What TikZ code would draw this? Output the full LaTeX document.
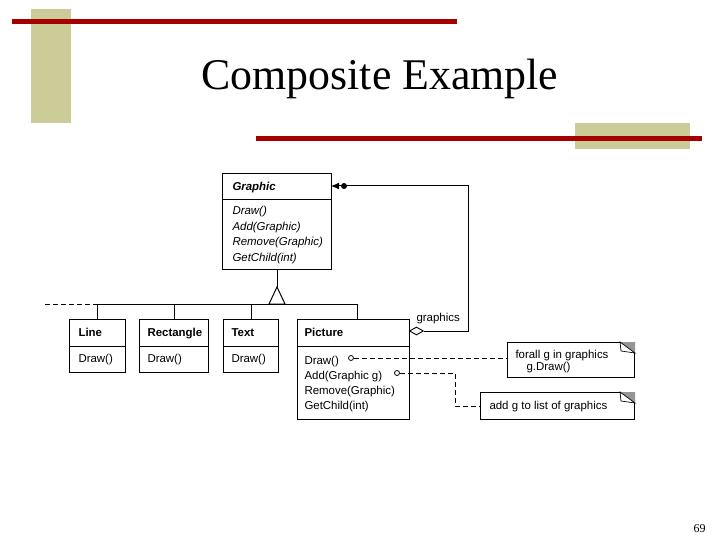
\documentclass[tikz,border=0pt]{standalone}
\usepackage{fontspec}
\setmainfont{Liberation Serif}
\newfontfamily\diagfont{Liberation Sans}
\usetikzlibrary{arrows.meta,shapes.geometric}
\definecolor{barred}{RGB}{165,0,0}
\definecolor{bartan}{RGB}{204,204,153}
\definecolor{earGray}{RGB}{150,150,150}
\begin{document}
\begin{tikzpicture}[x=1bp,y=-1bp,
  every path/.style={line width=1bp},
  classbox/.style={draw, line width=1bp, inner sep=0, anchor=north west},
  notebox/.style={draw, line width=1bp, inner sep=0, anchor=north west, fill=white},
  txt/.style={anchor=base west, inner sep=0, font=\diagfont\fontsize{11.5}{13}\selectfont},
  hdr/.style={txt, font=\diagfont\bfseries\fontsize{11.5}{13}\selectfont},
  itxt/.style={txt, font=\diagfont\itshape\fontsize{11.5}{13}\selectfont},
  notedash/.style={dash pattern=on 5bp off 3bp},
  pin/.style={circle, draw, fill=white, inner sep=0, minimum size=5bp, line width=0.8bp}]
\useasboundingbox (0,0) rectangle (720,540);
\fill[white] (0,0) rectangle (720,540);

% decoration bars
\fill[bartan] (31,9) rectangle (71,123);
\fill[bartan] (575,123) rectangle (690,149);
\fill[barred] (12,19) rectangle (457,24);
\fill[barred] (256,136) rectangle (702,141);

% title
\node[anchor=base, inner sep=0, font=\fontsize{44}{50}\selectfont] (title) at (380,90) {Composite Example};

% Graphic class
\node[classbox, minimum width=109bp, minimum height=96bp] (graphic) at (222,173) {};
\draw ([yshift=-27bp]graphic.north west) -- ([yshift=-27bp]graphic.north east);
\node[hdr, font=\diagfont\bfseries\itshape\fontsize{11.5}{13}\selectfont] (gname) at (232,191) {Graphic};
\node[itxt] (g1) at (232,215) {Draw()};
\node[itxt] (g2) at (232,231) {Add(Graphic)};
\node[itxt] (g3) at (232,246) {Remove(Graphic)};
\node[itxt] (g4) at (232,262) {GetChild(int)};

% Subclasses
\node[classbox, minimum width=56bp, minimum height=53bp] (line) at (69,319) {};
\draw ([yshift=-27bp]line.north west) -- ([yshift=-27bp]line.north east);
\node[hdr] (lname) at (78,336) {Line};
\node[txt] (l1) at (78,362) {Draw()};

\node[classbox, minimum width=69bp, minimum height=53bp] (rect) at (139,319) {};
\draw ([yshift=-27bp]rect.north west) -- ([yshift=-27bp]rect.north east);
\node[hdr] (rname) at (147,336) {Rectangle};
\node[txt] (r1) at (147,362) {Draw()};

\node[classbox, minimum width=55bp, minimum height=53bp] (text) at (223,319) {};
\draw ([yshift=-27bp]text.north west) -- ([yshift=-27bp]text.north east);
\node[hdr] (tname) at (231,336) {Text};
\node[txt] (t1) at (231,362) {Draw()};

\node[classbox, minimum width=112bp, minimum height=100bp] (picture) at (297,319) {};
\draw ([yshift=-27bp]picture.north west) -- ([yshift=-27bp]picture.north east);
\node[hdr] (pname) at (304,336) {Picture};
\node[txt] (p1) at (304,364) {Draw()};
\node[txt] (p2) at (304,379) {Add(Graphic g)};
\node[txt] (p3) at (304,394) {Remove(Graphic)};
\node[txt] (p4) at (304,409) {GetChild(int)};

% inheritance
\coordinate (apex) at (graphic.south |- 0,287);
\coordinate (busL) at (97,304);
\coordinate (busR) at (357,304);
\coordinate (busDash) at (45,304);
\draw (graphic.south) -- (apex);
\draw[fill=white] (apex) -- ([xshift=-8bp]apex |- busL) -- ([xshift=8bp]apex |- busL) -- cycle;
\draw (busL) -- (busR);
\draw[notedash] (busDash) -- (busL);
\draw (line.north) -- (line.north |- busL);
\draw (rect.north) -- (rect.north |- busL);
\draw (text.north) -- (text.north |- busL);
\draw (busR) -- (busR |- picture.north);

% aggregation
\node[diamond, draw, fill=white, inner sep=0, minimum width=14bp, minimum height=8bp, line width=0.9bp, anchor=west] (agg) at (409,331) {};
\coordinate (aggCorner) at (468,186);
\coordinate (gAttach) at (331,186);
\draw[-{Latex[length=8bp,width=7bp]}] (agg.east) -| (aggCorner) -- (gAttach);
\fill (344,186) circle (3bp);
\node[txt] (glabel) at (416,321) {graphics};

% notes
\node[notebox, minimum width=127bp, minimum height=35bp] (note1) at (507,342) {};
\node[notebox, minimum width=154bp, minimum height=27bp] (note2) at (480,392) {};
\foreach \n in {note1,note2}{
  \fill[earGray] ([xshift=-15bp]\n.north east) -- (\n.north east) -- ([yshift=-11bp]\n.north east) -- cycle;
  \draw[fill=white, line width=0.7bp] ([xshift=-15bp]\n.north east) -- ([xshift=-14bp,yshift=-9bp]\n.north east) -- ([yshift=-11bp]\n.north east) -- cycle;
}
\node[txt] (n1a) at (515,358) {forall g in graphics};
\node[txt] (n1b) at (526,370) {g.Draw()};
\node[txt] (n2a) at (489,409) {add g to list of graphics};

% note connectors
\node[pin] (pin1) at (351,358) {};
\node[pin] (pin2) at (397,373) {};
\coordinate (bend2) at (455,373);
\draw[notedash] (pin1.east) -- (pin1.east -| note1.west);
\draw[notedash] (pin2.east) -- (bend2) |- (note2.west);

% page number
\node[anchor=base east, inner sep=0, font=\fontsize{12}{14}\selectfont] (pageno) at (706,532) {69};
\end{tikzpicture}
\end{document}
